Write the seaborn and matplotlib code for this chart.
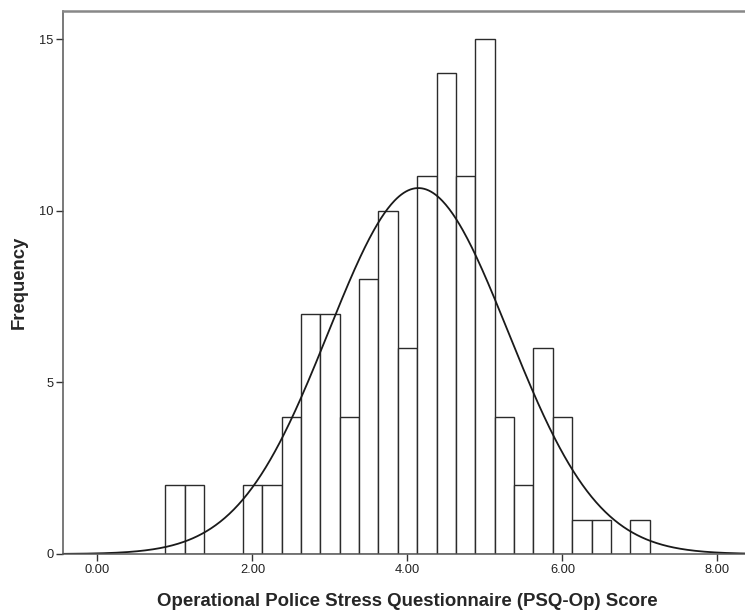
import numpy as np
import pandas as pd
import matplotlib
matplotlib.use("Agg")
import matplotlib.pyplot as plt
import seaborn as sns

# Bin edges (width 0.25) and counts
bin_left = [0.875, 1.125, 1.375, 1.625, 1.875, 2.125, 2.375, 2.625, 2.875, 3.125,
            3.375, 3.625, 3.875, 4.125, 4.375, 4.625, 4.875, 5.125, 5.375, 5.625,
            5.875, 6.125, 6.375, 6.625, 6.875]
counts = [2, 2, 0, 0, 2, 2, 4, 7, 7, 4,
          8, 10, 6, 11, 14, 11, 15, 4, 2, 6,
          4, 1, 1, 0, 1]
bin_width = 0.25
# Fitted normal curve parameters
fit_mean = 4.14
fit_sd = 1.16

x_ticks = [0.0, 2.0, 4.0, 6.0, 8.0]
y_ticks = [0, 5, 10, 15]

sns.set_theme(style="white")
plt.rcParams['font.family'] = ['Liberation Sans', 'DejaVu Sans']

df = pd.DataFrame({"center": np.array(bin_left) + bin_width / 2, "count": counts})
edges = list(bin_left) + [bin_left[-1] + bin_width]

fig = plt.figure(figsize=(7.45, 6.14), dpi=100)
ax = fig.add_axes([63 / 745, 1 - 554 / 614, (745 - 63) / 745, (554 - 11) / 614])

sns.histplot(data=df, x="center", weights="count", bins=edges, ax=ax,
             color="white", edgecolor="#2b2b2b", linewidth=1.0, alpha=1.0)

n_total = sum(counts)
xs = np.linspace(-0.445, 8.36, 600)
ys = n_total * bin_width / (fit_sd * np.sqrt(2 * np.pi)) * np.exp(-0.5 * ((xs - fit_mean) / fit_sd) ** 2)
sns.lineplot(x=xs, y=ys, ax=ax, color="#1a1a1a", linewidth=1.3)

ax.set_xlim(-0.445, 8.355)
ax.set_ylim(0, 15.82)
ax.set_xticks(x_ticks)
ax.set_xticklabels([f"{v:.2f}" for v in x_ticks])
ax.set_yticks(y_ticks)
ax.tick_params(axis="both", direction="out", length=5, width=1, color="#333333",
               labelsize=9.3, labelcolor="#222222", bottom=True, left=True, pad=2)
for name, s in ax.spines.items():
    s.set_color("#555555")
    s.set_linewidth(1.1)
ax.spines["top"].set_color("#888888")
ax.spines["top"].set_linewidth(1.8)
ax.spines["right"].set_visible(False)

ax.set_xlabel("Operational Police Stress Questionnaire (PSQ-Op) Score",
              fontsize=13.4, fontweight="bold", va="center")
ax.xaxis.set_label_coords(0.505, -0.088)
ax.set_ylabel("Frequency", fontsize=13.3, fontweight="bold", labelpad=8)

fig.savefig("out.png", dpi=100)
